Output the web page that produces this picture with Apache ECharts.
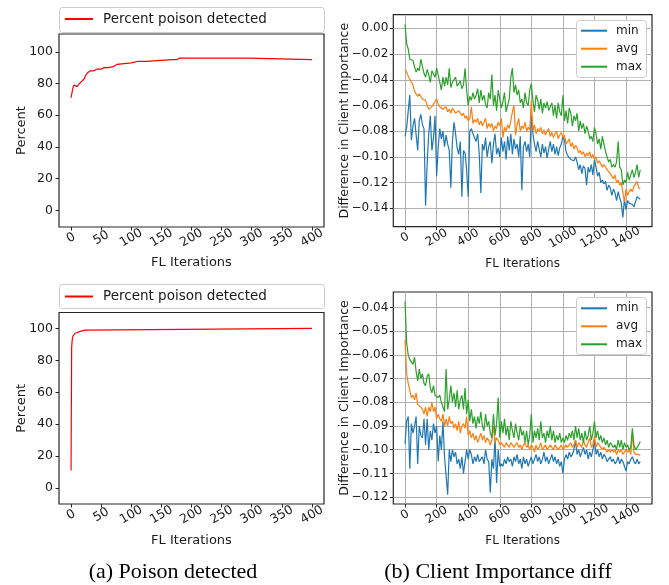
<!DOCTYPE html>
<html><head><meta charset="utf-8">
<script src="https://cdn.jsdelivr.net/npm/echarts@6/dist/echarts.min.js"></script>
<style>html,body{margin:0;padding:0;background:#fff}#c{width:669px;height:585px}</style>
</head><body><div id="c"></div>
<script>
// ---- (a) Percent poison detected, top panel ----
const poisonItersA = [0,1,2,3,4,5,6,10,12,14,16,18,20,22,24,25,26,28,30,32,35,38,42,50,55,62,68,72,76,78,100,102,112,113,115,125,127,168,169,171,176,177,179,180,200,201,204,208,209,212,216,217,220,238,239,242,250,251,254,258,259,262,266,267,270,276,277,280,290,291,294,295,296,400];
const poisonPctA   = [71,73,75,77,78,79,78,78,79,80,81,81.5,82,83,85,84,86,87,87,88,87.5,88,89,89,90,90,90.5,91,92,93,93,94,94,93,94,94,95,95,96,95,95,94,95,96,96,95,96,96,95,96,96,95,96,96,95,96,96,95,96,96,95,96,96,95,96,96,95,96,96,95,96,96,95,95];
// ---- (a) Percent poison detected, bottom panel ----
const poisonItersB = [0,1,2,3,5,7,9,14,15,23,24,400];
const poisonPctB   = [11,88,93,95,96,97,98,98,99,99,100,100];

// ---- (b) Client importance diff, sampled every 10 FL iterations ----
const iterStep = 10;
const minTop = [-0.084,-0.077,-0.077,-0.052,-0.087,-0.076,-0.070,-0.071,-0.095,-0.072,-0.067,-0.075,-0.078,-0.138,-0.105,-0.082,-0.068,-0.095,-0.085,-0.068,
-0.115,-0.092,-0.078,-0.086,-0.080,-0.092,-0.083,-0.090,-0.095,-0.124,-0.088,-0.073,-0.082,-0.093,-0.098,-0.088,-0.131,-0.095,-0.097,-0.110,
-0.131,-0.080,-0.078,-0.082,-0.085,-0.088,-0.082,-0.098,-0.128,-0.090,-0.095,-0.085,-0.100,-0.092,-0.088,-0.105,-0.090,-0.082,-0.098,-0.093,
-0.100,-0.085,-0.096,-0.088,-0.102,-0.084,-0.095,-0.082,-0.098,-0.086,-0.094,-0.090,-0.100,-0.084,-0.126,-0.092,-0.088,-0.096,-0.090,-0.100,
-0.068,-0.082,-0.090,-0.096,-0.088,-0.094,-0.100,-0.090,-0.097,-0.092,-0.101,-0.094,-0.088,-0.096,-0.090,-0.098,-0.092,-0.099,-0.093,-0.090,
-0.084,-0.087,-0.096,-0.099,-0.098,-0.102,-0.101,-0.103,-0.100,-0.104,-0.110,-0.106,-0.113,-0.107,-0.109,-0.122,-0.108,-0.112,-0.106,-0.114,
-0.102,-0.108,-0.115,-0.112,-0.120,-0.118,-0.121,-0.119,-0.126,-0.122,-0.124,-0.130,-0.125,-0.128,-0.134,-0.127,-0.132,-0.136,-0.147,-0.133,
-0.141,-0.134,-0.136,-0.135,-0.137,-0.139,-0.135,-0.131,-0.130,-0.133];
const avgTop = [-0.032,-0.034,-0.037,-0.037,-0.042,-0.044,-0.049,-0.048,-0.053,-0.051,-0.052,-0.055,-0.054,-0.056,-0.060,-0.063,-0.064,-0.061,-0.059,-0.058,
-0.055,-0.059,-0.061,-0.060,-0.063,-0.062,-0.061,-0.065,-0.063,-0.066,-0.062,-0.064,-0.066,-0.067,-0.064,-0.063,-0.068,-0.066,-0.070,-0.068,
-0.072,-0.070,-0.061,-0.074,-0.071,-0.073,-0.070,-0.075,-0.072,-0.076,-0.075,-0.070,-0.078,-0.074,-0.077,-0.074,-0.080,-0.076,-0.078,-0.073,
-0.076,-0.070,-0.085,-0.077,-0.080,-0.075,-0.078,-0.072,-0.065,-0.060,-0.083,-0.075,-0.070,-0.080,-0.076,-0.078,-0.073,-0.080,-0.077,-0.079,
-0.056,-0.080,-0.075,-0.082,-0.078,-0.080,-0.077,-0.082,-0.079,-0.083,-0.080,-0.078,-0.084,-0.081,-0.085,-0.082,-0.080,-0.086,-0.083,-0.081,
-0.085,-0.083,-0.090,-0.088,-0.086,-0.092,-0.089,-0.094,-0.091,-0.093,-0.097,-0.095,-0.098,-0.096,-0.100,-0.097,-0.099,-0.096,-0.101,-0.098,
-0.102,-0.100,-0.105,-0.103,-0.102,-0.108,-0.106,-0.107,-0.110,-0.109,-0.113,-0.115,-0.117,-0.114,-0.120,-0.118,-0.122,-0.120,-0.128,-0.135,
-0.125,-0.130,-0.127,-0.125,-0.127,-0.123,-0.122,-0.119,-0.124,-0.125];
const maxTop = [0.003,-0.012,-0.016,-0.024,-0.024,-0.025,-0.030,-0.034,-0.031,-0.033,-0.024,-0.030,-0.035,-0.038,-0.032,-0.036,-0.042,-0.033,-0.034,-0.038,
-0.031,-0.032,-0.042,-0.048,-0.038,-0.045,-0.038,-0.044,-0.031,-0.046,-0.042,-0.040,-0.038,-0.045,-0.043,-0.041,-0.047,-0.044,-0.031,-0.048,
-0.060,-0.053,-0.056,-0.050,-0.055,-0.052,-0.047,-0.058,-0.048,-0.056,-0.052,-0.059,-0.062,-0.050,-0.055,-0.036,-0.060,-0.052,-0.064,-0.048,
-0.055,-0.062,-0.057,-0.050,-0.065,-0.060,-0.055,-0.038,-0.031,-0.050,-0.044,-0.052,-0.048,-0.058,-0.055,-0.062,-0.050,-0.058,-0.060,-0.048,
-0.043,-0.056,-0.065,-0.052,-0.056,-0.063,-0.055,-0.066,-0.058,-0.062,-0.057,-0.064,-0.061,-0.058,-0.068,-0.060,-0.070,-0.058,-0.065,-0.068,
-0.052,-0.072,-0.064,-0.074,-0.062,-0.066,-0.076,-0.068,-0.072,-0.066,-0.080,-0.072,-0.078,-0.074,-0.082,-0.076,-0.080,-0.086,-0.084,-0.088,
-0.077,-0.082,-0.090,-0.086,-0.094,-0.084,-0.090,-0.096,-0.100,-0.104,-0.102,-0.108,-0.106,-0.108,-0.104,-0.088,-0.108,-0.110,-0.122,-0.118,
-0.120,-0.112,-0.118,-0.114,-0.110,-0.116,-0.112,-0.106,-0.116,-0.110];

const minBot = [-0.0975,-0.088,-0.086,-0.108,-0.089,-0.093,-0.090,-0.086,-0.106,-0.090,-0.094,-0.095,-0.087,-0.098,-0.087,-0.100,-0.092,-0.096,-0.089,-0.093,
-0.090,-0.105,-0.094,-0.100,-0.088,-0.103,-0.111,-0.119,-0.100,-0.105,-0.100,-0.103,-0.101,-0.106,-0.104,-0.108,-0.103,-0.110,-0.110,-0.100,
-0.104,-0.100,-0.102,-0.106,-0.103,-0.105,-0.102,-0.105,-0.104,-0.103,-0.106,-0.100,-0.104,-0.105,-0.118,-0.104,-0.108,-0.095,-0.114,-0.100,
-0.107,-0.106,-0.107,-0.104,-0.106,-0.103,-0.105,-0.104,-0.107,-0.103,-0.105,-0.102,-0.106,-0.104,-0.108,-0.103,-0.106,-0.104,-0.107,-0.105,
-0.103,-0.106,-0.104,-0.102,-0.105,-0.103,-0.106,-0.104,-0.101,-0.105,-0.103,-0.106,-0.104,-0.102,-0.105,-0.103,-0.106,-0.104,-0.107,-0.105,
-0.110,-0.104,-0.102,-0.104,-0.101,-0.103,-0.102,-0.100,-0.096,-0.102,-0.100,-0.103,-0.101,-0.099,-0.102,-0.100,-0.104,-0.101,-0.103,-0.100,
-0.096,-0.102,-0.100,-0.103,-0.101,-0.104,-0.102,-0.103,-0.105,-0.104,-0.103,-0.105,-0.104,-0.106,-0.105,-0.103,-0.106,-0.104,-0.105,-0.107,
-0.109,-0.105,-0.106,-0.104,-0.103,-0.105,-0.106,-0.104,-0.106,-0.105];
const avgBot = [-0.0535,-0.068,-0.072,-0.075,-0.078,-0.077,-0.079,-0.076,-0.081,-0.081,-0.082,-0.083,-0.085,-0.082,-0.086,-0.082,-0.084,-0.080,-0.084,-0.082,
-0.087,-0.085,-0.087,-0.088,-0.085,-0.090,-0.087,-0.090,-0.086,-0.089,-0.088,-0.091,-0.089,-0.092,-0.088,-0.093,-0.090,-0.089,-0.091,-0.086,
-0.094,-0.092,-0.095,-0.093,-0.096,-0.094,-0.097,-0.095,-0.093,-0.096,-0.094,-0.097,-0.095,-0.096,-0.098,-0.096,-0.090,-0.097,-0.095,-0.096,
-0.098,-0.097,-0.098,-0.099,-0.097,-0.098,-0.099,-0.097,-0.098,-0.099,-0.098,-0.097,-0.099,-0.098,-0.100,-0.098,-0.097,-0.099,-0.098,-0.100,
-0.098,-0.099,-0.101,-0.098,-0.100,-0.099,-0.097,-0.100,-0.099,-0.098,-0.100,-0.099,-0.098,-0.099,-0.100,-0.098,-0.099,-0.100,-0.099,-0.098,
-0.100,-0.099,-0.098,-0.099,-0.098,-0.097,-0.099,-0.098,-0.096,-0.099,-0.097,-0.098,-0.099,-0.096,-0.098,-0.099,-0.097,-0.095,-0.099,-0.098,
-0.094,-0.099,-0.097,-0.098,-0.099,-0.100,-0.099,-0.100,-0.101,-0.100,-0.101,-0.100,-0.101,-0.100,-0.102,-0.100,-0.101,-0.100,-0.102,-0.101,
-0.100,-0.101,-0.100,-0.102,-0.093,-0.101,-0.102,-0.1015,-0.102,-0.1025];
const maxBot = [-0.0375,-0.055,-0.060,-0.062,-0.063,-0.064,-0.061,-0.067,-0.071,-0.066,-0.070,-0.068,-0.072,-0.073,-0.069,-0.068,-0.074,-0.076,-0.073,-0.077,
-0.077,-0.078,-0.077,-0.080,-0.082,-0.084,-0.066,-0.083,-0.079,-0.073,-0.080,-0.076,-0.082,-0.075,-0.083,-0.079,-0.077,-0.083,-0.074,-0.085,
-0.079,-0.088,-0.083,-0.089,-0.086,-0.091,-0.086,-0.089,-0.084,-0.090,-0.092,-0.085,-0.090,-0.088,-0.093,-0.095,-0.085,-0.094,-0.089,-0.078,
-0.095,-0.088,-0.093,-0.087,-0.094,-0.090,-0.096,-0.088,-0.092,-0.095,-0.089,-0.093,-0.096,-0.090,-0.094,-0.092,-0.097,-0.092,-0.098,-0.094,
-0.085,-0.097,-0.092,-0.095,-0.091,-0.096,-0.088,-0.095,-0.093,-0.097,-0.092,-0.095,-0.090,-0.096,-0.092,-0.097,-0.094,-0.096,-0.093,-0.097,
-0.095,-0.097,-0.094,-0.096,-0.093,-0.095,-0.092,-0.096,-0.090,-0.095,-0.091,-0.096,-0.093,-0.097,-0.092,-0.096,-0.094,-0.090,-0.096,-0.093,
-0.088,-0.095,-0.092,-0.096,-0.094,-0.097,-0.095,-0.098,-0.096,-0.099,-0.097,-0.098,-0.099,-0.098,-0.100,-0.096,-0.099,-0.096,-0.100,-0.097,
-0.099,-0.098,-0.100,-0.099,-0.091,-0.098,-0.100,-0.099,-0.098,-0.0965];

// ---- tick labels ----
const xTicksLeft = [0,50,100,150,200,250,300,350,400];
const yTicksLeft = [0,20,40,60,80,100];
const xTicksRight = [0,200,400,600,800,1000,1200,1400];
const yTicksTop = [0,-0.02,-0.04,-0.06,-0.08,-0.10,-0.12,-0.14];
const yTicksBot = [-0.04,-0.05,-0.06,-0.07,-0.08,-0.09,-0.10,-0.11,-0.12];

const legendLeft = ['Percent poison detected'];
const legendRight = ['min','avg','max'];
const captions = ['(a) Poison detected','(b) Client Importance diff'];

const FONT = 'DejaVu Sans';
const TXT = '#1a1a1a';
const FRAME = '#262626';
const C_MIN = '#1f77b4', C_AVG = '#ff7f0e', C_MAX = '#2ca02c', C_RED = '#ff0000';

const iters = minTop.map((_, i) => i * iterStep);
const pairs = (xs, ys) => ys.map((y, i) => [xs[i], y]);
const fmtNeg = v => (v < 0 ? '\u2212' : '') + Math.abs(v).toFixed(2);
const fmtInt = v => String(Math.round(v));

function line(name, data, gi, color) {
  return {type:'line', name, xAxisIndex:gi, yAxisIndex:gi, data,
    symbol:'none', showSymbol:false, lineStyle:{color, width:1.2}, itemStyle:{color},
    animation:false, emphasis:{disabled:true}};
}

function xAxis(gi, min, max, ticks, gap, isRight) {
  return {gridIndex:gi, type:'value', min, max,
    axisLine:{show:false, onZero:false},
    axisTick:{show:true, length:3.5, customValues:ticks, lineStyle:{color:FRAME, width:1}},
    axisLabel:{customValues:ticks, interval:0, rotate:30, align:'center', verticalAlign:'middle',
      margin:11, fontFamily:FONT, fontSize:isRight?12:12.5, color:TXT, formatter:fmtInt},
    splitLine:{show:isRight, lineStyle:{color:'#b0b0b0', width:1}},
    name:'FL Iterations', nameLocation:'middle', nameGap:gap,
    nameTextStyle:{fontFamily:FONT, fontSize:isRight?12:13, color:TXT}};
}
function yAxisL(gi, min, max) {
  return {gridIndex:gi, type:'value', min, max,
    axisLine:{show:false, onZero:false},
    axisTick:{show:true, length:3.5, customValues:yTicksLeft, lineStyle:{color:FRAME, width:1}},
    axisLabel:{customValues:yTicksLeft, margin:6, fontFamily:FONT, fontSize:12.5, color:TXT, formatter:fmtInt},
    splitLine:{show:false},
    name:'Percent', nameLocation:'middle', nameGap:31, nameMoveOverlap:false,
    nameTextStyle:{fontFamily:FONT, fontSize:13, color:TXT}};
}
function yAxisR(gi, min, max, ticks) {
  return {gridIndex:gi, type:'value', min, max,
    axisLine:{show:false, onZero:false},
    axisTick:{show:true, length:3.5, customValues:ticks, lineStyle:{color:FRAME, width:1}},
    axisLabel:{customValues:ticks, margin:5, fontFamily:FONT, fontSize:12, color:TXT, formatter:fmtNeg},
    splitLine:{show:true, lineStyle:{color:'#b0b0b0', width:1}},
    name:'Difference in Client Importance', nameLocation:'middle', nameGap:42, nameMoveOverlap:false,
    nameTextStyle:{fontFamily:FONT, fontSize:12.5, color:TXT}};
}
const gridStyle = {show:true, borderColor:FRAME, borderWidth:1.2, backgroundColor:'transparent', containLabel:false};

const legendBase = {padding:0, selectedMode:false, itemStyle:{opacity:0}};

const option = {
  animation:false,
  backgroundColor:'#ffffff',
  grid:[
    Object.assign({left:59, top:34, width:265, height:193}, gridStyle),
    Object.assign({left:393.3, top:14.7, width:258.7, height:212}, gridStyle),
    Object.assign({left:59, top:312.5, width:265, height:191.5}, gridStyle),
    Object.assign({left:393.3, top:292, width:258.7, height:212}, gridStyle)
  ],
  xAxis:[
    xAxis(0, -20, 420, xTicksLeft, 29, false),
    xAxis(1, -74.5, 1564.5, xTicksRight, 31, true),
    xAxis(2, -20, 420, xTicksLeft, 30, false),
    xAxis(3, -74.5, 1564.5, xTicksRight, 31, true)
  ],
  yAxis:[
    yAxisL(0, -10.5, 111.2),
    yAxisR(1, -0.1543, 0.0106, yTicksTop),
    yAxisL(2, -10, 110),
    yAxisR(3, -0.1229, -0.0335, yTicksBot)
  ],
  legend:[
    Object.assign({data:legendLeft, left:64, top:12, itemWidth:28, itemHeight:13,
      textStyle:{fontFamily:FONT, fontSize:13.5, color:TXT, padding:[0,0,0,5]}}, legendBase),
    Object.assign({data:legendLeft, left:64, top:289.5, itemWidth:28, itemHeight:13,
      textStyle:{fontFamily:FONT, fontSize:13.5, color:TXT, padding:[0,0,0,5]}}, legendBase),
    Object.assign({data:legendRight, orient:'vertical', left:580, top:23.7, itemWidth:26, itemHeight:14, itemGap:4,
      textStyle:{fontFamily:FONT, fontSize:12, color:TXT, lineHeight:14, padding:[0,0,0,4]}}, legendBase),
    Object.assign({data:legendRight, orient:'vertical', left:580, top:301.3, itemWidth:26, itemHeight:14, itemGap:4,
      textStyle:{fontFamily:FONT, fontSize:12, color:TXT, lineHeight:14, padding:[0,0,0,4]}}, legendBase)
  ],
  graphic:[
    {type:'rect', z:3, shape:{x:59.5, y:7.5, width:265, height:25, r:3}, style:{fill:'#ffffff', stroke:'#cccccc', lineWidth:1}},
    {type:'rect', z:3, shape:{x:59.5, y:284.5, width:265, height:24, r:3}, style:{fill:'#ffffff', stroke:'#cccccc', lineWidth:1}},
    {type:'rect', z:3, shape:{x:576.5, y:20.5, width:70, height:57, r:3}, style:{fill:'#ffffff', stroke:'#cccccc', lineWidth:1}},
    {type:'rect', z:3, shape:{x:576.5, y:297.5, width:70, height:57, r:3}, style:{fill:'#ffffff', stroke:'#cccccc', lineWidth:1}},
    {type:'text', z:5, x:173, y:572, style:{text:captions[0], font:'22px "Liberation Serif"', fill:'#000', align:'center', verticalAlign:'middle'}},
    {type:'text', z:5, x:498, y:572, style:{text:captions[1], font:'22px "Liberation Serif"', fill:'#000', align:'center', verticalAlign:'middle'}}
  ],
  series:[
    line(legendLeft[0], pairs(poisonItersA, poisonPctA), 0, C_RED),
    line(legendRight[0], pairs(iters, minTop), 1, C_MIN),
    line(legendRight[1], pairs(iters, avgTop), 1, C_AVG),
    line(legendRight[2], pairs(iters, maxTop), 1, C_MAX),
    line(legendLeft[0], pairs(poisonItersB, poisonPctB), 2, C_RED),
    line(legendRight[0], pairs(iters, minBot), 3, C_MIN),
    line(legendRight[1], pairs(iters, avgBot), 3, C_AVG),
    line(legendRight[2], pairs(iters, maxBot), 3, C_MAX)
  ]
};
const chart = echarts.init(document.getElementById('c'), null, {renderer:'canvas'});
chart.setOption(option);
</script></body></html>
